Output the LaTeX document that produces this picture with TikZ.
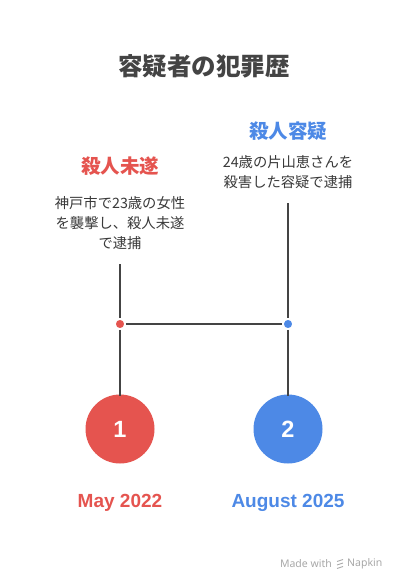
\documentclass[tikz,border=0pt]{standalone}
\usepackage{fontspec}
\setmainfont{Noto Sans CJK JP}
\newfontfamily\latinreg{Noto Sans}
\newfontfamily\latinbold{Liberation Sans Bold}
\definecolor{cred}{HTML}{E5544F}
\definecolor{cblue}{HTML}{4D89E6}
\definecolor{cline}{HTML}{444444}
\definecolor{ctext}{HTML}{3A3A3A}
\definecolor{cgray}{HTML}{A8A8A8}
\begin{document}
\begin{tikzpicture}[x=1pt,y=-1pt,
  connector/.style={cline,line width=2.4pt},
  dotmark/.style={circle,inner sep=0pt,minimum size=10pt,draw=white,line width=1.5pt},
  bigcircle/.style={circle,inner sep=0pt,minimum size=69pt,text=white,font=\latinbold\fontsize{23.5}{24}\selectfont},
  heading/.style={font=\bfseries\fontsize{19.5}{22}\selectfont,inner sep=0pt},
  desc/.style={text=ctext,font=\fontsize{14.3}{20}\selectfont,align=center,inner sep=0pt},
  datelabel/.style={font=\latinbold\fontsize{19}{20}\selectfont,inner sep=0pt}]
\useasboundingbox[fill=white] (0,0) rectangle (408,588);
\node[text=cline,font=\bfseries\fontsize{24.5}{26}\selectfont,inner sep=0pt] (title) at (204,66) {容疑者の犯罪歴};
% event 1
\node[heading,text=cred] (h1) at (120,166) {殺人未遂};
\node[desc] (d1) at (120,223) {神戸市で23歳の女性\\を襲撃し、殺人未遂\\で逮捕};
\coordinate (t1) at (120,264);
\node[dotmark,fill=cred] (p1) at (120,324) {};
\node[bigcircle,fill=cred] (c1) at (120,429) {1};
\node[datelabel,text=cred] (y1) at (120,503) {May 2022};
% event 2
\node[heading,text=cblue] (h2) at (288,131) {殺人容疑};
\node[desc] (d2) at (288,172.5) {24歳の片山恵さんを\\殺害した容疑で逮捕};
\coordinate (t2) at (288,203);
\node[dotmark,fill=cblue] (p2) at (288,324) {};
\node[bigcircle,fill=cblue] (c2) at (288,429) {2};
\node[datelabel,text=cblue] (y2) at (288,503) {August 2025};
% connectors
\draw[connector] (t1) -- (p1.north);
\draw[connector] (p1.south) -- ([yshift=-2pt]c1.north);
\draw[connector] (t2) -- (p2.north);
\draw[connector] (p2.south) -- ([yshift=-2pt]c2.north);
\draw[connector] (p1.east) -- (p2.west);
% footer
\node[text=cgray,font=\latinreg\fontsize{10.5}{12}\selectfont,inner sep=0pt,anchor=east] (made) at (332,563.5) {Made with};
\coordinate (lg) at (340,563.5);
\draw[cgray,line width=0.9pt] ([xshift=-3pt,yshift=-5pt]lg) -- ([xshift=3pt,yshift=-3pt]lg)
  ([xshift=-3pt,yshift=-1.5pt]lg) -- ([xshift=3pt,yshift=0.5pt]lg)
  ([xshift=-3pt,yshift=2pt]lg) -- ([xshift=3pt,yshift=4pt]lg);
\node[text=cgray,font=\latinreg\fontsize{10.5}{12}\selectfont,inner sep=0pt,anchor=west] (napkin) at (347,563.5) {Napkin};
\end{tikzpicture}
\end{document}
